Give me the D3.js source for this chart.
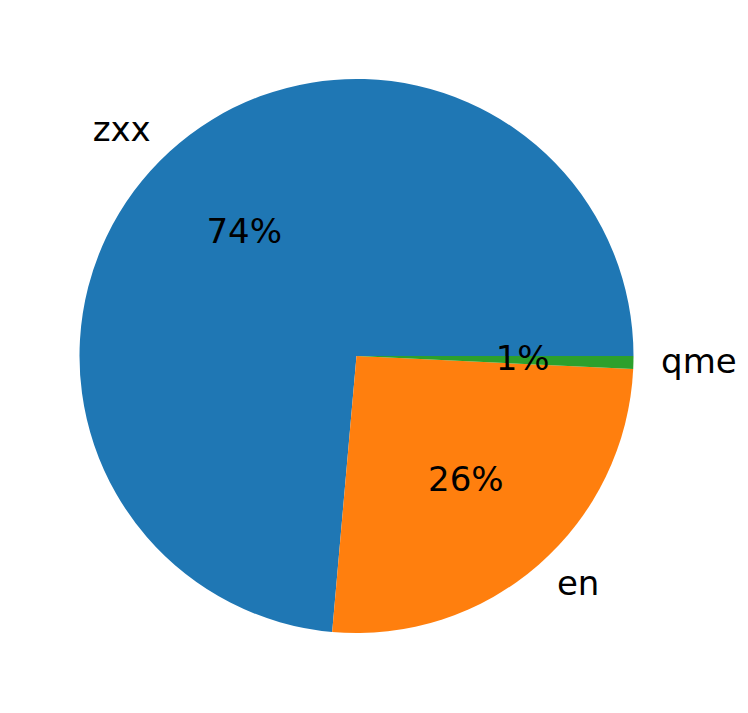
<!DOCTYPE html>
<html>
<head>
<meta charset="utf-8">
<script src="https://cdn.jsdelivr.net/npm/d3@7"></script>
<style>
  html, body { margin: 0; padding: 0; background: #fff; }
  svg { display: block; }
  text { font-family: "DejaVu Sans", sans-serif; fill: #000; }
</style>
</head>
<body>
<svg id="chart" width="748" height="713"></svg>
<script>
const categories = ["zxx", "en", "qme"];
const values = [73.6, 25.65, 0.75];
const colors = ["#1f77b4", "#ff7f0e", "#2ca02c"];

const svg = d3.select("#chart");
const cx = 356.5, cy = 356, r = 277;
const fontSize = 34;

const data = categories.map((c, i) => ({ cat: c, value: values[i], color: colors[i] }));
const total = d3.sum(values);

// matplotlib style: start at 3 o'clock, counterclockwise
const pie = d3.pie().value(d => d.value).sort(null)
  .startAngle(Math.PI / 2).endAngle(Math.PI / 2 - 2 * Math.PI);
const arcs = pie(data);
const arc = d3.arc().innerRadius(0).outerRadius(r);

const g = svg.append("g").attr("transform", `translate(${cx},${cy})`);

g.selectAll("path").data(arcs).join("path")
  .attr("d", arc)
  .attr("fill", d => d.data.color);

function pos(d, k) {
  const m = (d.startAngle + d.endAngle) / 2;
  return [k * r * Math.sin(m), -k * r * Math.cos(m)];
}

g.selectAll("text.label").data(arcs).join("text")
  .attr("class", "label")
  .attr("x", d => pos(d, 1.1)[0])
  .attr("y", d => pos(d, 1.1)[1])
  .attr("dy", "0.29em")
  .attr("text-anchor", d => pos(d, 1.1)[0] > 0 ? "start" : "end")
  .style("font-size", fontSize + "px")
  .text(d => d.data.cat);

g.selectAll("text.pct").data(arcs).join("text")
  .attr("class", "pct")
  .attr("x", d => pos(d, 0.6)[0])
  .attr("y", d => pos(d, 0.6)[1])
  .attr("dy", "0.29em")
  .attr("text-anchor", "middle")
  .style("font-size", fontSize + "px")
  .text(d => (d.data.value / total * 100).toFixed(0) + "%");
</script>
</body>
</html>
